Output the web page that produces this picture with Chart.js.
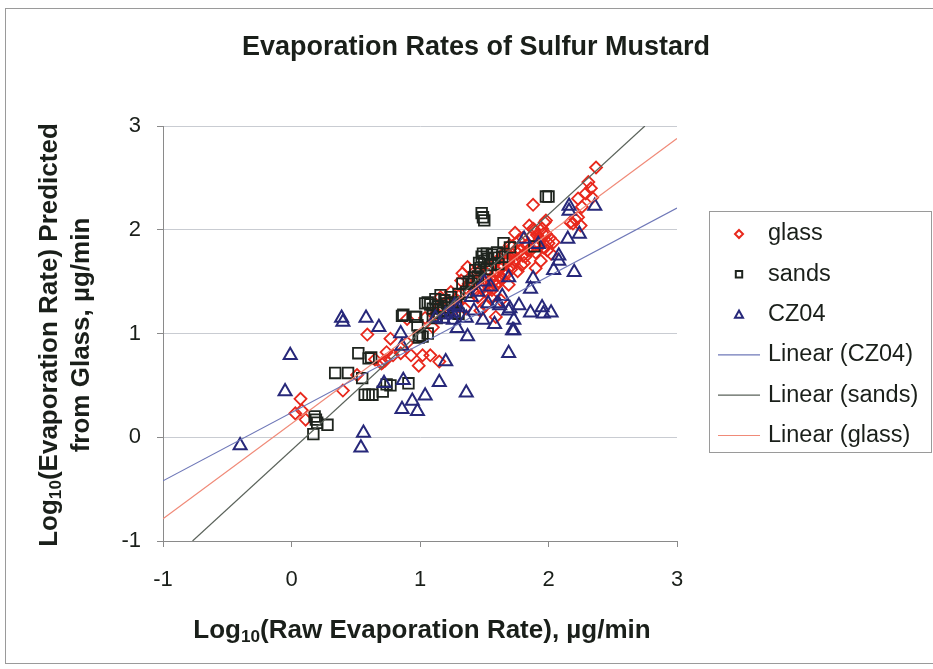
<!DOCTYPE html>
<html>
<head>
<meta charset="utf-8">
<script src="https://cdn.jsdelivr.net/npm/chart.js@4.4.1/dist/chart.umd.min.js"></script>
<style>
    html, body { margin: 0; padding: 0; background: #fff; }
    #wrap { width: 933px; height: 669px; }
</style>
</head>
<body>
<div id="wrap"><canvas id="evapChart" width="933" height="669"></canvas></div>
<script>

const FONT = "'Liberation Sans', Arial, sans-serif"

// glass (red diamonds)
const glassX = [0.07, 0.03, 0.08, 0.11, 0.40, 0.51, 0.59, 0.71, 0.74, 0.77, 0.85, 0.79, 0.73, 0.93, 1.02, 1.08, 1.15, 0.99, 0.90, 0.90, 0.70, 0.65,
    1.04, 1.10, 1.12, 1.16, 1.18, 1.24, 1.29, 1.32, 1.33, 1.35, 1.37, 1.41, 1.45, 1.45, 1.47, 1.49, 1.51, 1.52, 1.55, 1.56,
    1.57, 1.59, 1.59, 1.63, 1.63, 1.63, 1.65, 1.68, 1.68, 1.70, 1.70, 1.74, 1.74, 1.76, 1.77, 1.81, 1.84, 1.85, 1.88, 1.88,
    1.89, 1.90, 1.93, 1.94, 1.95, 1.96, 1.96, 1.97, 1.98, 2.00, 2.02, 2.04, 2.17, 2.19, 2.21, 2.23, 2.23, 2.25, 2.26, 2.29,
    2.31, 2.33, 2.34, 2.37, 1.66, 1.69, 1.72, 1.57, 1.60, 1.54, 1.42, 1.28, 1.38, 1.50, 1.62, 1.80, 1.83, 1.91,
    1.44, 1.46, 1.48, 1.53, 1.55, 1.58, 1.60, 1.61, 1.64, 1.66, 1.67, 1.69, 1.71, 1.72, 1.73, 1.75, 1.78, 1.79,
    1.80, 1.82, 1.84, 1.86, 1.87, 1.90, 1.92, 1.94, 1.98, 1.99, 2.01, 1.76, 1.52, 1.36, 1.30, 1.26, 1.20, 1.14]
const glassY = [0.37, 0.23, 0.26, 0.17, 0.45, 0.60, 0.99, 0.72, 0.82, 0.95, 0.81, 0.79, 0.74, 0.79, 0.79, 0.79, 0.73, 0.69, 0.91, 1.14, 0.71, 0.75,
    1.15, 1.06, 1.19, 1.35, 1.25, 1.40, 1.30, 1.51, 1.58, 1.24, 1.64, 1.45, 1.58, 1.35, 1.22, 1.51, 1.27, 1.58, 1.35, 1.42,
    1.68, 1.46, 1.16, 1.63, 1.54, 1.32, 1.77, 1.58, 1.73, 1.85, 1.64, 1.97, 1.80, 1.77, 1.90, 1.68, 1.80, 2.04, 2.24, 2.01,
    2.00, 1.63, 1.92, 1.70, 2.01, 1.96, 1.83, 2.07, 2.09, 1.87, 1.77, 1.88, 2.07, 2.06, 2.10, 2.30, 2.12, 2.04, 2.22, 2.35,
    2.46, 2.40, 2.31, 2.60, 1.70, 1.47, 1.84, 1.50, 1.60, 1.44, 1.40, 1.33, 1.48, 1.45, 1.56, 1.75, 1.85, 1.95,
    1.50, 1.60, 1.44, 1.62, 1.52, 1.56, 1.70, 1.50, 1.66, 1.58, 1.78, 1.70, 1.62, 1.76, 1.68, 1.72, 1.80, 1.66,
    1.92, 1.74, 1.86, 1.80, 1.94, 1.78, 1.86, 1.90, 1.96, 1.80, 1.92, 1.60, 1.40, 1.44, 1.36, 1.22, 1.30, 1.24]

// sands (black squares)
const sandsX = [0.17, 0.18, 0.20, 0.19, 0.28, 0.34, 0.44, 0.52, 0.62, 0.60, 0.55, 0.57, 0.60, 0.63, 0.71, 0.77, 0.74, 0.91, 0.86, 0.96,
    0.98, 0.99, 1.02, 1.06, 0.87, 0.97, 1.00, 1.04, 1.06, 1.10, 1.12, 1.14, 1.16, 1.18, 1.21, 1.22, 1.25, 1.30, 1.10, 1.13,
    1.27, 1.33, 1.36, 1.40, 1.43, 1.45, 1.47, 1.48, 1.49, 1.50, 1.52, 1.52, 1.55, 1.58, 1.61, 1.64, 1.65, 1.70, 1.48, 1.49,
    1.50, 1.98, 2.00, 1.89, 1.30, 1.38, 1.08, 1.15, 1.19, 1.24, 1.28, 1.46, 1.53, 1.56, 1.60, 1.42]
const sandsY = [0.03, 0.20, 0.14, 0.17, 0.12, 0.62, 0.62, 0.81, 0.77, 0.76, 0.57, 0.41, 0.41, 0.41, 0.44, 0.50, 0.51, 0.52, 1.17, 1.16,
    1.08, 0.96, 0.97, 1.00, 1.18, 1.16, 0.98, 1.29, 1.30, 1.24, 1.33, 1.26, 1.37, 1.22, 1.29, 1.25, 1.30, 1.19, 1.17, 1.15,
    1.20, 1.48, 1.40, 1.48, 1.61, 1.55, 1.63, 1.74, 1.77, 1.70, 1.77, 1.62, 1.66, 1.73, 1.67, 1.74, 1.87, 1.83, 2.16, 2.12,
    2.09, 2.32, 2.32, 1.84, 1.38, 1.50, 1.28, 1.20, 1.32, 1.35, 1.27, 1.68, 1.72, 1.76, 1.78, 1.54]

// CZ04 (blue triangles)
const czX = [-0.40, -0.01, -0.05, 0.39, 0.40, 0.58, 0.68, 0.56, 0.54, 0.85, 0.86, 0.72, 0.87, 0.86, 0.94, 0.98, 1.04, 1.15, 1.20, 1.36,
    1.37, 1.29, 1.36, 1.49, 1.58, 1.69, 1.72, 1.73, 1.69, 1.77, 1.70, 1.86, 1.95, 1.96, 2.02, 1.86, 1.88, 1.69, 2.04, 2.08,
    2.08, 2.20, 2.15, 2.24, 2.16, 2.16, 2.36, 1.53, 1.60, 1.92, 1.81, 1.50, 1.55, 1.25, 1.30, 1.40, 1.45, 1.20, 1.27, 1.42,
    1.62, 1.64, 1.12, 1.26, 1.18, 1.73]
const czY = [-0.08, 0.79, 0.44, 1.15, 1.11, 1.15, 1.06, 0.04, -0.10, 1.00, 0.88, 0.52, 0.55, 0.27, 0.35, 0.25, 0.40, 0.53, 0.73, 0.43,
    0.97, 1.05, 1.15, 1.13, 1.09, 0.81, 1.03, 1.13, 1.22, 1.27, 1.24, 1.20, 1.25, 1.19, 1.20, 1.43, 1.53, 1.54, 1.61, 1.75,
    1.70, 1.59, 1.91, 1.96, 2.23, 2.18, 2.23, 1.29, 1.29, 1.86, 1.91, 1.50, 1.45, 1.20, 1.25, 1.35, 1.40, 1.18, 1.27, 1.22,
    1.27, 1.36, 1.15, 1.13, 1.14, 1.03]

// linear trendline end points
const trendCzX = [-1, 3]
const trendCzY = [-0.42, 2.21]
const trendSandsX = [-0.77, 2.75]
const trendSandsY = [-1, 3]
const trendGlassX = [-1, 3]
const trendGlassY = [-0.785, 2.88]

const xTicks = [-1, 0, 1, 2, 3]
const yTicks = [-1, 0, 1, 2, 3]

const toPoints = (xs, ys) => xs.map((x, i) => ({ x, y: ys[i] }))

const COLORS = {
    glass: "#e8281c",
    sands: "#1e241e",
    cz: "#27287a",
    lineCz: "#6f78b8",
    lineSands: "#5a625a",
    lineGlass: "#f08a78"
}

// draw text made of parts, some of them subscript
function drawParts(ctx, parts, x, y, size) {
    let total = 0
    parts.forEach(p => {
        ctx.font = "bold " + (p.sub ? size * 0.66 : size) + "px " + FONT
        p.w = ctx.measureText(p.t).width
        total += p.w
    })
    let cx = x - total / 2
    ctx.textAlign = "left"
    ctx.textBaseline = "middle"
    parts.forEach(p => {
        ctx.font = "bold " + (p.sub ? size * 0.66 : size) + "px " + FONT
        ctx.fillText(p.t, cx, p.sub ? y + size * 0.25 : y)
        cx += p.w
    })
}

function drawMarker(ctx, style, x, y, r, color) {
    ctx.save()
    ctx.strokeStyle = color
    ctx.lineWidth = 2
    ctx.beginPath()
    if (style === "rectRot") {
        ctx.moveTo(x, y - r); ctx.lineTo(x + r, y); ctx.lineTo(x, y + r); ctx.lineTo(x - r, y); ctx.closePath()
    } else if (style === "rect") {
        ctx.rect(x - r * 0.8, y - r * 0.8, r * 1.6, r * 1.6)
    } else {
        ctx.moveTo(x, y - r); ctx.lineTo(x + r, y + r * 0.8); ctx.lineTo(x - r, y + r * 0.8); ctx.closePath()
    }
    ctx.stroke()
    ctx.restore()
}

const decorPlugin = {
    id: "decor",
    beforeDraw(chart) {
        const ctx = chart.ctx
        ctx.save()
        ctx.fillStyle = "#fff"
        ctx.fillRect(0, 0, chart.width, chart.height)
        ctx.strokeStyle = "#9a9a9a"
        ctx.lineWidth = 1
        ctx.strokeRect(5.5, 8.5, 960, 655)
        ctx.restore()
    },
    afterDraw(chart) {
        const ctx = chart.ctx
        ctx.save()
        ctx.fillStyle = "#1a1f1a"

        // title
        ctx.font = "bold 27px " + FONT
        ctx.textAlign = "center"
        ctx.textBaseline = "middle"
        ctx.fillText("Evaporation Rates of Sulfur Mustard", 476, 48)

        // x axis title
        drawParts(ctx, [
            { t: "Log" }, { t: "10", sub: true }, { t: "(Raw Evaporation Rate), µg/min" }
        ], 422, 631, 26)

        // y axis title
        ctx.save()
        ctx.translate(50, 335)
        ctx.rotate(-Math.PI / 2)
        drawParts(ctx, [
            { t: "Log" }, { t: "10", sub: true }, { t: "(Evaporation Rate) Predicted" }
        ], 0, 0, 26)
        drawParts(ctx, [{ t: "from Glass, µg/min" }], 0, 32, 26)
        ctx.restore()

        // legend
        ctx.strokeStyle = "#9a9a9a"
        ctx.lineWidth = 1
        ctx.strokeRect(709.5, 211.5, 222, 241)

        const items = [
            { label: "glass", marker: "rectRot", color: COLORS.glass },
            { label: "sands", marker: "rect", color: COLORS.sands },
            { label: "CZ04", marker: "triangle", color: COLORS.cz },
            { label: "Linear (CZ04)", line: COLORS.lineCz },
            { label: "Linear (sands)", line: COLORS.lineSands },
            { label: "Linear (glass)", line: COLORS.lineGlass }
        ]
        ctx.font = "23.5px " + FONT
        ctx.textAlign = "left"
        ctx.textBaseline = "middle"
        items.forEach((it, i) => {
            const y = 234 + i * 40.3
            if (it.line) {
                ctx.strokeStyle = it.line
                ctx.lineWidth = 1.2
                ctx.beginPath()
                ctx.moveTo(718, y)
                ctx.lineTo(760, y)
                ctx.stroke()
            } else {
                drawMarker(ctx, it.marker, 739, y, 4, it.color)
            }
            ctx.fillStyle = "#1a1f1a"
            ctx.fillText(it.label, 768, y)
        })
        ctx.restore()
    }
}

const chart = new Chart(
    document.getElementById("evapChart"),
    {
        type: "scatter",

        data: {
            datasets: [
                {
                    label: "glass",
                    data: toPoints(glassX, glassY),
                    pointStyle: "rectRot",
                    pointRadius: 6,
                    borderColor: COLORS.glass,
                    backgroundColor: "rgba(0,0,0,0)",
                    pointBorderWidth: 1.8,
                    order: 3
                },
                {
                    label: "sands",
                    data: toPoints(sandsX, sandsY),
                    pointStyle: "rect",
                    pointRadius: 7.5,
                    borderColor: COLORS.sands,
                    backgroundColor: "rgba(0,0,0,0)",
                    pointBorderWidth: 1.8,
                    order: 2
                },
                {
                    label: "CZ04",
                    data: toPoints(czX, czY),
                    pointStyle: "triangle",
                    pointRadius: 7.5,
                    borderColor: COLORS.cz,
                    backgroundColor: "rgba(0,0,0,0)",
                    pointBorderWidth: 2,
                    order: 1
                },
                {
                    label: "Linear (CZ04)",
                    data: toPoints(trendCzX, trendCzY),
                    showLine: true,
                    pointRadius: 0,
                    borderColor: COLORS.lineCz,
                    borderWidth: 1.2,
                    order: 0
                },
                {
                    label: "Linear (sands)",
                    data: toPoints(trendSandsX, trendSandsY),
                    showLine: true,
                    pointRadius: 0,
                    borderColor: COLORS.lineSands,
                    borderWidth: 1.2,
                    order: 0
                },
                {
                    label: "Linear (glass)",
                    data: toPoints(trendGlassX, trendGlassY),
                    showLine: true,
                    pointRadius: 0,
                    borderColor: COLORS.lineGlass,
                    borderWidth: 1.2,
                    order: 0
                }
            ]
        },

        options: {
            responsive: false,
            animation: false,
            layout: {
                padding: { top: 126, right: 256, left: 0, bottom: 0 }
            },
            plugins: {
                legend: { display: false },
                title: { display: false },
                tooltip: { enabled: false }
            },
            scales: {
                x: {
                    type: "linear",
                    min: -1,
                    max: 3,
                    afterBuildTicks(scale) {
                        scale.ticks = xTicks.map(v => ({ value: v }))
                    },
                    afterFit(scale) {
                        scale.height = 128
                    },
                    ticks: {
                        color: "#1a1f1a",
                        font: { size: 22, family: FONT },
                        padding: 20
                    },
                    grid: {
                        drawOnChartArea: false,
                        tickLength: 6,
                        color: "#8a8a8a"
                    },
                    border: { color: "#8a8a8a" }
                },
                y: {
                    type: "linear",
                    min: -1,
                    max: 3,
                    afterBuildTicks(scale) {
                        scale.ticks = yTicks.map(v => ({ value: v }))
                    },
                    afterFit(scale) {
                        scale.width = 163
                    },
                    ticks: {
                        color: "#1a1f1a",
                        font: { size: 22, family: FONT },
                        padding: 16
                    },
                    grid: {
                        color: "#c9ccd2",
                        tickColor: "#8a8a8a",
                        tickLength: 6
                    },
                    border: { color: "#8a8a8a" }
                }
            }
        },

        plugins: [decorPlugin]
    }
)
</script>
</body>
</html>
